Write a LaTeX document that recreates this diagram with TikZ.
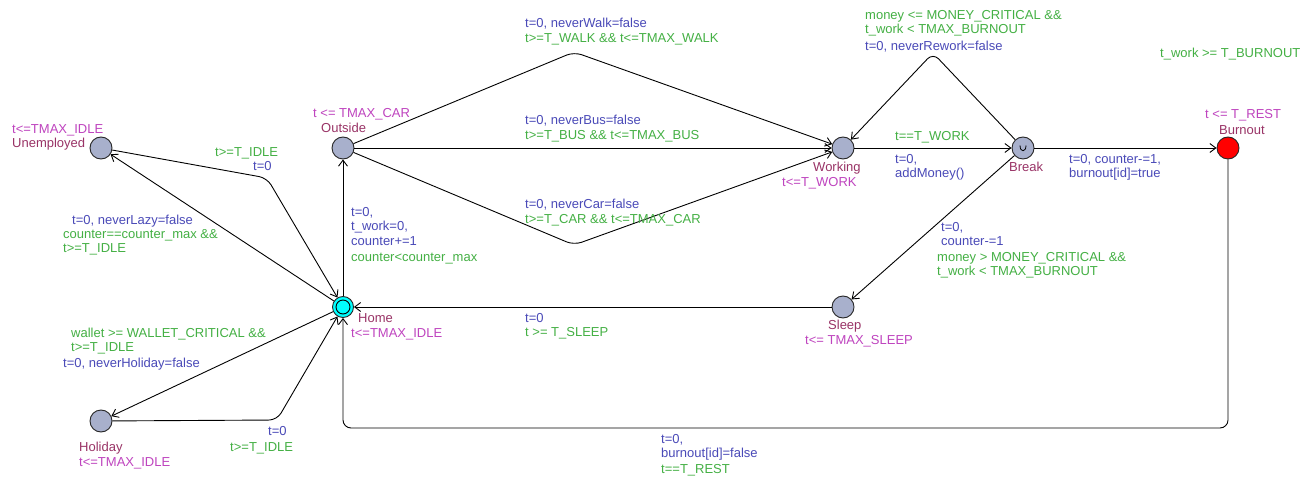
\documentclass[tikz,border=0pt]{standalone}
\usepackage{fontspec}
\setmainfont{Liberation Sans}
\usetikzlibrary{arrows.meta}
\definecolor{cname}{HTML}{993366}
\definecolor{cinv}{HTML}{BF44BF}
\definecolor{cguard}{HTML}{44B044}
\definecolor{cassign}{HTML}{4A4AB8}
\definecolor{cloc}{HTML}{A8B0CC}
\definecolor{ccyan}{HTML}{00FFFF}
\definecolor{cred}{HTML}{FF0000}
\newcommand\lblfont{\fontsize{13}{14.7}\selectfont}
\newcommand\fs{\rule{0pt}{11pt}}
\begin{document}
\begin{tikzpicture}[x=1pt,y=-1pt,
 loc/.style={circle,draw=black!85,fill=cloc,minimum size=22pt,inner sep=0pt,line width=0.9pt},
 edge/.style={draw=black,line width=0.9pt,rounded corners=8pt},
 arr/.style={edge,-{Straight Barb[length=6pt,width=9pt]}},
 lab/.style={anchor=north west,inner sep=0pt,align=left,font=\lblfont},
 nm/.style={lab,text=cname},
 inv/.style={lab,text=cinv},
 grd/.style={lab,text=cguard},
 asg/.style={lab,text=cassign}]
\fill[white] (0,0) rectangle (1308,486);
\useasboundingbox (0,0) rectangle (1308,486);

% locations
\node[loc] (U) at (101,148) {};
\node[loc] (O) at (343,148) {};
\node[loc,fill=ccyan,minimum size=21pt] (H) at (343,307) {};
\draw[line width=0.9pt] (H.center) circle (7);
\node[loc] (Hol) at (101,421) {};
\node[loc] (W) at (843,148) {};
\node[loc] (Brk) at (1023,148) {};
\draw[line width=0.8pt] (1020,145.5) .. controls (1020,152.5) and (1026,152.5) .. (1026,145.5);
\node[loc,fill=cred] (Bur) at (1228,148) {};
\node[loc] (S) at (843,307) {};

% location labels
\node[inv] (iU) at (12,133-11) {\fs t<=TMAX\_IDLE};
\node[nm] (nU) at (12,147-11) {\fs Unemployed};
\node[inv] (iO) at (313,117-11) {\fs t <= TMAX\_CAR};
\node[nm] (nO) at (321,132-11) {\fs Outside};
\node[nm] (nH) at (358,322-11) {\fs Home};
\node[inv] (iH) at (351,337-11) {\fs t<=TMAX\_IDLE};
\node[nm] (nHol) at (79,451-11) {\fs Holiday};
\node[inv] (iHol) at (79,466-11) {\fs t<=TMAX\_IDLE};
\node[nm] (nW) at (813,171-11) {\fs Working};
\node[inv] (iW) at (782,186-11) {\fs t<=T\_WORK};
\node[nm] (nB) at (1009,171-11) {\fs Break};
\node[inv] (iBur) at (1205,118-11) {\fs t <= T\_REST};
\node[nm] (nBur) at (1219,134-11) {\fs Burnout};
\node[nm] (nS) at (828,329-11) {\fs Sleep};
\node[inv] (iS) at (805,344-11) {\fs t<= TMAX\_SLEEP};

% edges
\coordinate (bU) at (267,178);
\draw[arr] (U) -- (bU) -- (H);
\draw[arr] (H) -- (U);
\draw[arr] (H) -- (O);
\coordinate (bWalk) at (574,52);
\draw[arr] (O) -- (bWalk) -- (W);
\draw[arr] (O) -- (W);
\coordinate (bCar) at (574,245);
\draw[arr] (O) -- (bCar) -- (W);
\draw[arr] (W) -- (Brk);
\coordinate (bRe) at (933,53);
\draw[arr] (Brk) -- (bRe) -- (W);
\draw[arr] (Brk) -- (Bur);
\draw[arr] (Brk) -- (S);
\draw[arr] (S) -- (H);
\coordinate (c1) at (1228,428);
\coordinate (c2) at (343,428);
\draw[arr] (Bur) -- (c1) -- (c2) -- (H);
\draw[arr] (H) -- (Hol);
\coordinate (bHol) at (277,420);
\draw[arr] (Hol) -- (bHol) -- (H);

% edge labels
\node[grd] (g1) at (215,156-11) {\fs t>=T\_IDLE};
\node[asg] (a1) at (253,170-11) {\fs t=0};
\node[asg] (a2) at (72,224-11) {\fs t=0, neverLazy=false};
\node[grd] (g2) at (63,238-11) {\fs counter==counter\_max \&\&\\t>=T\_IDLE};
\node[asg] (a3) at (351,216-11) {\fs t=0,\\t\_work=0,\\counter+=1};
\node[grd] (g3) at (351,261-11) {\fs counter<counter\_max};
\node[asg] (a4) at (525,27-11) {\fs t=0, neverWalk=false};
\node[grd] (g4) at (525,42-11) {\fs t>=T\_WALK \&\& t<=TMAX\_WALK};
\node[asg] (a5) at (525,124-11) {\fs t=0, neverBus=false};
\node[grd] (g5) at (525,139-11) {\fs t>=T\_BUS \&\& t<=TMAX\_BUS};
\node[asg] (a6) at (525,208-11) {\fs t=0, neverCar=false};
\node[grd] (g6) at (525,223-11) {\fs t>=T\_CAR \&\& t<=TMAX\_CAR};
\node[grd] (g7) at (895,140-11) {\fs t==T\_WORK};
\node[asg] (a7) at (895,163-11) {\fs t=0,\\addMoney()};
\node[grd] (g8) at (865,19-11) {\fs money <= MONEY\_CRITICAL \&\&\\t\_work < TMAX\_BURNOUT};
\node[asg] (a8) at (865,50-11) {\fs t=0, neverRework=false};
\node[grd] (g9) at (1160,57-11) {\fs t\_work >= T\_BURNOUT};
\node[asg] (a9) at (1069,163-11) {\fs t=0, counter-=1,\\burnout[id]=true};
\node[asg] (a10) at (941,231-11) {\fs t=0,\\counter-=1};
\node[grd] (g10) at (937,261-11) {\fs money > MONEY\_CRITICAL \&\&\\t\_work < TMAX\_BURNOUT};
\node[asg] (a11) at (525,322-11) {\fs t=0};
\node[grd] (g11) at (525,336-11) {\fs t >= T\_SLEEP};
\node[asg] (a12) at (661,443-11) {\fs t=0,\\burnout[id]=false};
\node[grd] (g12) at (661,473-11) {\fs t==T\_REST};
\node[grd] (g13) at (71,337-11) {\fs wallet >= WALLET\_CRITICAL \&\&\\t>=T\_IDLE};
\node[asg] (a13) at (63,367-11) {\fs t=0, neverHoliday=false};
\node[asg] (a14) at (268,435-11) {\fs t=0};
\node[grd] (g14) at (230,451-11) {\fs t>=T\_IDLE};
\end{tikzpicture}
\end{document}
